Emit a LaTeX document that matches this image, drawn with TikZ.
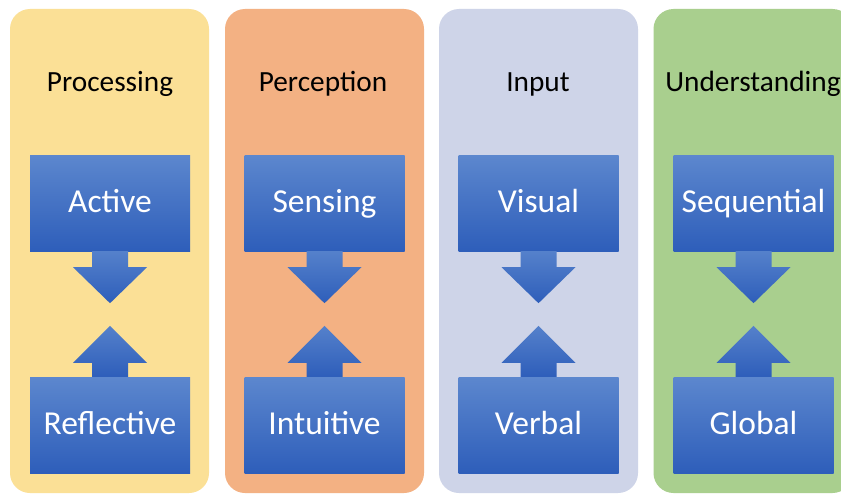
\documentclass[tikz,border=0pt]{standalone}
\usepackage{fontspec}
\setmainfont{Carlito}
\definecolor{ycol}{RGB}{251,224,150}
\definecolor{ocol}{RGB}{243,177,131}
\definecolor{lcol}{RGB}{206,212,232}
\definecolor{gcol}{RGB}{169,207,142}
\definecolor{btop}{RGB}{92,135,206}
\definecolor{bbot}{RGB}{46,94,186}
\begin{document}
\begin{tikzpicture}[x=1pt,y=-1pt,
  colbox/.style={rounded corners=20pt,minimum width=199pt,minimum height=484pt,inner sep=0pt,draw=none},
  ttl/.style={font=\fontsize{29.3}{32}\selectfont,text=black,inner sep=0pt,text height=24pt,text depth=4pt},
  bluebox/.style={minimum width=160pt,minimum height=96pt,inner sep=0pt,draw=none,
     top color=btop,bottom color=bbot,text=white,font=\fontsize{33.5}{36}\selectfont,
     text height=23pt,text depth=4pt},
  arrshade/.style={top color=btop!85!bbot,bottom color=bbot}]
\useasboundingbox (0,0) rectangle (841,495);
\clip (0,0) rectangle (841,495);
\fill[white] (0,0) rectangle (841,495);
% columns
\node[colbox,fill=ycol] (c1) at (109.5,251) {};
\node[colbox,fill=ocol] (c2) at (324.5,251) {};
\node[colbox,fill=lcol] (c3) at (538.5,251) {};
\node[colbox,fill=gcol] (c4) at (753,251) {};
% titles
\node[ttl] (t1) at (110,82) {Processing};
\node[ttl] (t2) at (323,82) {Perception};
\node[ttl] (t3) at (538,82) {Input};
\node[ttl] (t4) at (753,82) {Understanding};
% boxes
\node[bluebox] (a1) at (110,203) {Active};
\node[bluebox] (a2) at (324.5,203) {Sensing};
\node[bluebox] (a3) at (538.5,203) {Visual};
\node[bluebox] (a4) at (753.5,203) {Sequential};
\node[bluebox] (b1) at (110,425) {Reflective};
\node[bluebox] (b2) at (324.5,425) {Intuitive};
\node[bluebox] (b3) at (538.5,425) {Verbal};
\node[bluebox] (b4) at (753.5,425) {Global};
% arrows
\foreach \n in {1,2,3,4}{
  \path[arrshade] ([xshift=-18pt]a\n.south) -- ++(0,16) -- ++(-19,0) -- ++(37,36) -- ++(37,-36) -- ++(-19,0) -- ++(0,-16) -- cycle;
  \path[arrshade] ([xshift=-18pt]b\n.north) -- ++(0,-14) -- ++(-19,0) -- ++(37,-37) -- ++(37,37) -- ++(-19,0) -- ++(0,14) -- cycle;
}
\end{tikzpicture}
\end{document}
